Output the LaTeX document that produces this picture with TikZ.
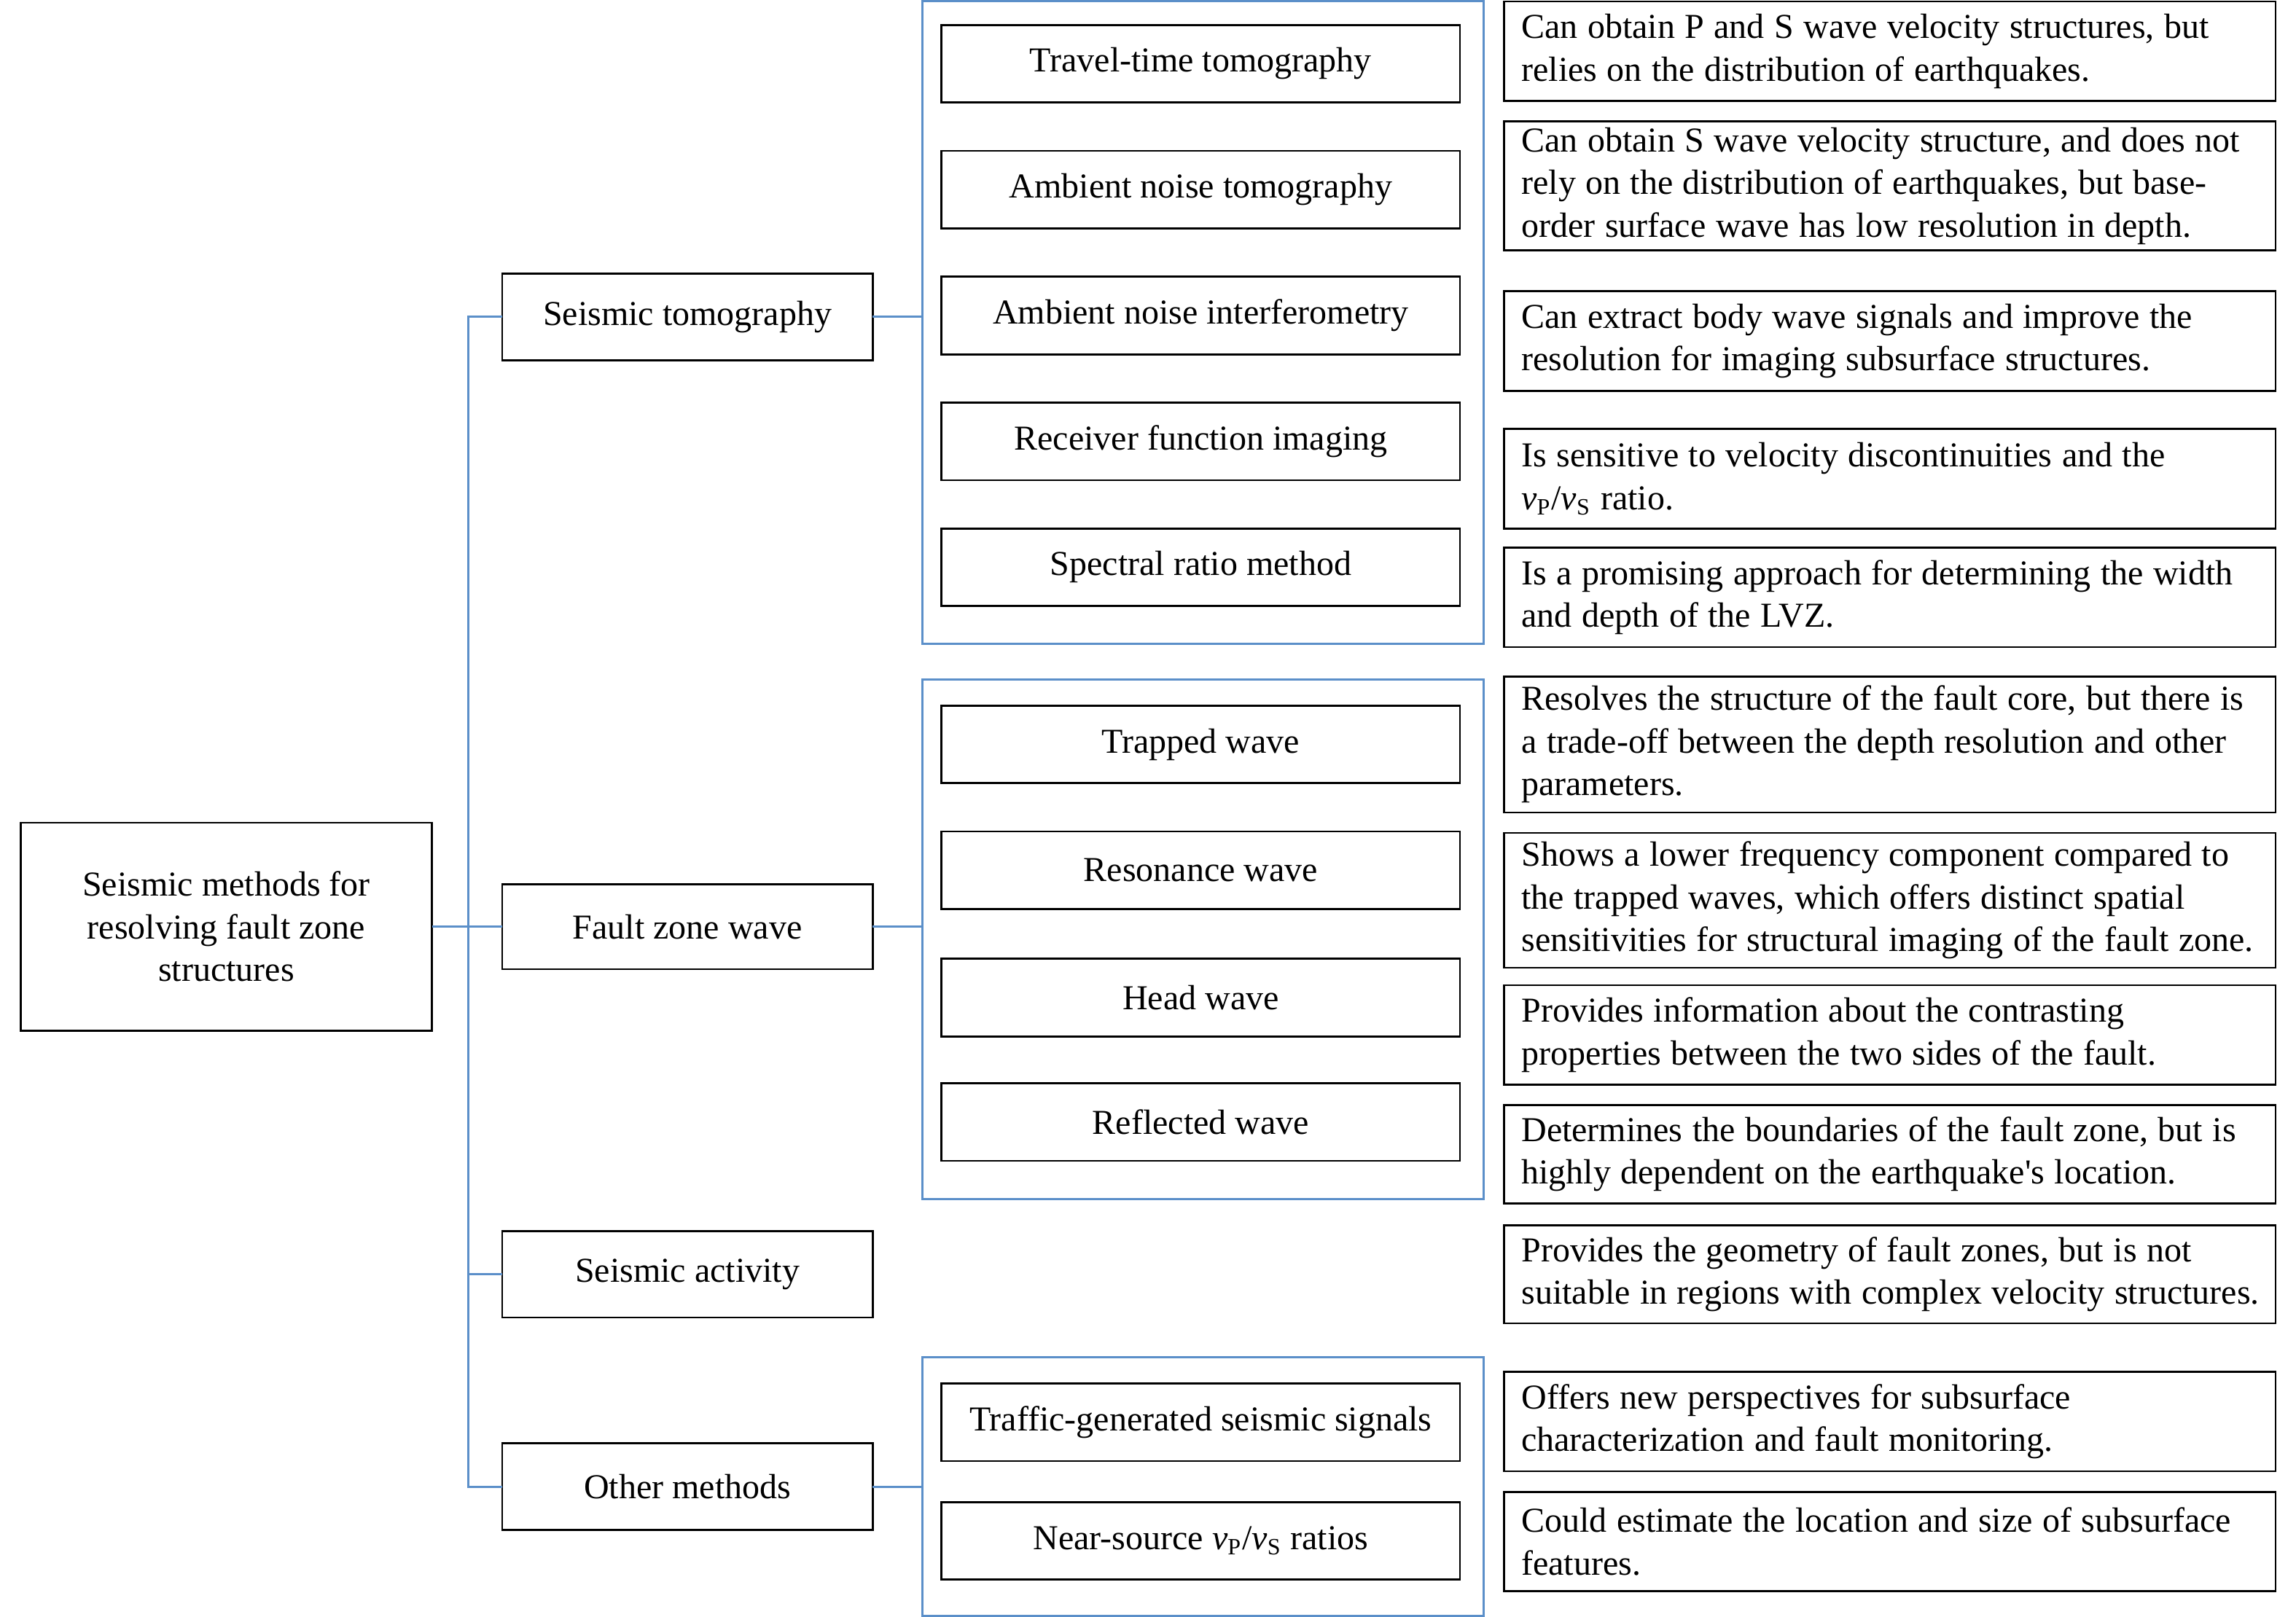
\documentclass[tikz,border=0pt]{standalone}
\usepackage{fontspec}
\setmainfont{Liberation Serif}
\definecolor{lineblue}{RGB}{91,143,201}
\newcommand\vpvs{\textit{v}\textsubscript{P}/\textit{v}\textsubscript{S}}
\begin{document}
\begin{tikzpicture}[x=0.50225pt,y=-0.50225pt]
\tikzset{
  bbox/.style={draw=black, line width=0.7pt, rectangle, inner sep=0pt, outer sep=0pt,
               font=\fontsize{12}{14.6}\selectfont},
  sz/.style 2 args={minimum width=#1*0.50225pt, minimum height=#2*0.50225pt},
  ctr/.style={bbox, align=center},
  desc/.style={bbox, align=left, text width=252.6pt,
               execute at begin node={\spaceskip=3.35pt\relax}},
  grp/.style={draw=lineblue, line width=0.75pt, rectangle, inner sep=0pt, outer sep=0pt},
  conn/.style={draw=lineblue, line width=0.75pt}
}
\useasboundingbox (0,0) rectangle (1568,1104.5);

% root
\node[ctr, sz={281}{142}] (root) at (154.5,633) {Seismic methods for\\resolving fault zone\\structures};

% level 1
\node[ctr, sz={253}{59}] (st) at (469.5,216.5) {Seismic tomography};
\node[ctr, sz={253}{58}] (fz) at (469.5,633) {Fault zone wave};
\node[ctr, sz={253}{59}] (sa) at (469.5,870.5) {Seismic activity};
\node[ctr, sz={253}{59}] (om) at (469.5,1015.5) {Other methods};

% groups
\node[grp, sz={383}{439}] (g1) at (821.5,220.5) {};
\node[grp, sz={383}{355}] (g2) at (821.5,641.5) {};
\node[grp, sz={383}{177}] (g3) at (821.5,1015.5) {};

% level 2
\node[ctr, sz={354}{53}] (tt)  at (820,43.5)  {Travel-time tomography};
\node[ctr, sz={354}{53}] (ant) at (820,129.5) {Ambient noise tomography};
\node[ctr, sz={354}{53}] (ani) at (820,215.5) {Ambient noise interferometry};
\node[ctr, sz={354}{53}] (rf)  at (820,301.5) {Receiver function imaging};
\node[ctr, sz={354}{53}] (sr)  at (820,387.5) {Spectral ratio method};
\node[ctr, sz={354}{53}] (tw)  at (820,508.5) {Trapped wave};
\node[ctr, sz={354}{53}] (rw)  at (820,594.5) {Resonance wave};
\node[ctr, sz={354}{53}] (hw)  at (820,681.5) {Head wave};
\node[ctr, sz={354}{53}] (rfw) at (820,766.5) {Reflected wave};
\node[ctr, sz={354}{53}] (tg)  at (820,971.5) {Traffic-generated seismic signals};
\node[ctr, sz={354}{53}] (ns)  at (820,1052.5) {Near-source \vpvs{} ratios};

% descriptions
\node[desc, sz={527}{68}] (d1) at (1290.5,35) {\mbox{Can obtain P and S wave velocity structures, but}\\\mbox{relies on the distribution of earthquakes.}};
\node[desc, sz={527}{88}] (d2) at (1290.5,127) {\mbox{Can obtain S wave velocity structure, and does not}\\\mbox{rely on the distribution of earthquakes, but base-}\\\mbox{order surface wave has low resolution in depth.}};
\node[desc, sz={527}{68}] (d3) at (1290.5,233) {\mbox{Can extract body wave signals and improve the}\\\mbox{resolution for imaging subsurface structures.}};
\node[desc, sz={527}{68}] (d4) at (1290.5,327) {\mbox{Is sensitive to velocity discontinuities and the}\\\mbox{\vpvs{} ratio.}};
\node[desc, sz={527}{68}] (d5) at (1290.5,408) {\mbox{Is a promising approach for determining the width}\\\mbox{and depth of the LVZ.}};
\node[desc, sz={527}{93}] (d6) at (1290.5,508.5) {\mbox{Resolves the structure of the fault core, but there is}\\\mbox{a trade-off between the depth resolution and other}\\\mbox{parameters.}};
\node[desc, sz={527}{92}] (d7) at (1290.5,615) {\mbox{Shows a lower frequency component compared to}\\\mbox{the trapped waves, which offers distinct spatial}\\\mbox{sensitivities for structural imaging of the fault zone.}};
\node[desc, sz={527}{68}] (d8) at (1290.5,707) {\mbox{Provides information about the contrasting}\\\mbox{properties between the two sides of the fault.}};
\node[desc, sz={527}{67}] (d9) at (1290.5,788.5) {\mbox{Determines the boundaries of the fault zone, but is}\\\mbox{highly dependent on the earthquake\textquotesingle s location.}};
\node[desc, sz={527}{67}] (d10) at (1290.5,870.5) {\mbox{Provides the geometry of fault zones, but is not}\\\mbox{suitable in regions with complex velocity structures.}};
\node[desc, sz={527}{68}] (d11) at (1290.5,971) {\mbox{Offers new perspectives for subsurface}\\\mbox{characterization and fault monitoring.}};
\node[desc, sz={527}{68}] (d12) at (1290.5,1053) {\mbox{Could estimate the location and size of subsurface}\\\mbox{features.}};

% connectors
\coordinate (trunk) at (320,633);
\draw[conn] (st.west) -- (st.west -| trunk) -- (om.west -| trunk) -- (om.west);
\draw[conn] (root.east) -- (fz.west);
\draw[conn] (sa.west -| trunk) -- (sa.west);
\draw[conn] (st.east) -- (st.east -| g1.west);
\draw[conn] (fz.east) -- (fz.east -| g2.west);
\draw[conn] (om.east) -- (om.east -| g3.west);
\end{tikzpicture}
\end{document}
